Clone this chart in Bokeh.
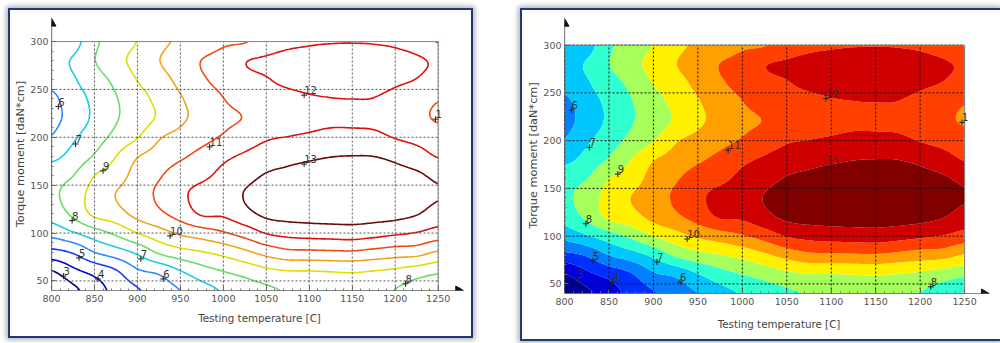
import numpy as np
from bokeh.plotting import figure
from bokeh.layouts import row
from bokeh.models import Range1d, SingleIntervalTicker, ColumnDataSource
from bokeh.embed import file_html
from bokeh.resources import INLINE
from bokeh.core.properties import value

# ---------------- data ----------------
temperatures = [800, 825, 850, 875, 900, 925, 950, 975, 1000, 1025,
                1050, 1075, 1100, 1125, 1150, 1175, 1200, 1225, 1250]
torques = [40, 60, 80, 100, 120, 140, 160, 180, 200, 220, 240, 260, 280, 300]

# estimated value of the response at each torque (rows above), one list per temperature
z_800 = [2.0, 2.95, 4.7, 6.35, 7.4, 7.8, 7.6, 6.75, 6.05, 5.75, 5.8, 6.3, 6.6, 6.0]
z_825 = [2.75, 3.75, 5.1, 6.9, 8.2, 8.5, 7.98, 7.35, 6.84, 6.38, 6.54, 6.88, 7.1, 6.55]
z_850 = [3.55, 4.3, 6.0, 7.54, 9.2, 9.35, 9.0, 8.1, 7.57, 7.2, 7.24, 7.58, 7.97, 7.8]
z_875 = [4.3, 4.9, 6.55, 8.2, 9.6, 10.02, 9.5, 9.0, 8.27, 7.92, 7.94, 8.24, 8.67, 8.49]
z_900 = [4.9, 5.85, 7.2, 9.0, 10.3, 10.6, 10.4, 9.95, 8.95, 8.48, 8.6, 9.03, 9.33, 9.03]
z_925 = [5.5, 6.2, 8.15, 9.6, 10.8, 11.15, 10.9, 10.4, 9.9, 9.14, 9.28, 9.63, 9.97, 9.74]
z_950 = [6.0, 6.95, 8.65, 10.15, 11.4, 11.8, 11.5, 10.85, 10.31, 9.83, 9.92, 10.25, 10.5, 10.17]
z_975 = [6.6, 7.6, 8.95, 10.5, 12.1, 12.3, 11.8, 11.3, 10.7, 10.3, 10.47, 10.87, 11.02, 10.43]
z_1000 = [7.1, 8.0, 9.3, 10.9, 12.15, 12.5, 12.25, 11.8, 11.1, 10.8, 10.98, 11.3, 11.4, 10.85]
z_1025 = [7.5, 8.35, 9.8, 11.4, 12.7, 13.05, 12.65, 12.15, 11.5, 11.05, 11.35, 11.7, 11.95, 10.95]
z_1050 = [7.8, 8.75, 10.35, 12.05, 13.2, 13.5, 13.08, 12.5, 11.9, 11.55, 11.7, 11.95, 12.15, 11.4]
z_1075 = [8.1, 8.95, 10.75, 12.3, 13.35, 13.65, 13.25, 12.7, 12.02, 11.6, 11.8, 12.15, 12.35, 11.75]
z_1100 = [8.3, 8.97, 10.8, 12.4, 13.4, 13.7, 13.4, 12.85, 12.15, 11.7, 11.92, 12.25, 12.42, 11.9]
z_1125 = [8.4, 9.03, 10.85, 12.45, 13.45, 13.75, 13.45, 12.98, 12.3, 11.8, 11.98, 12.32, 12.48, 11.96]
z_1150 = [8.45, 9.08, 10.88, 12.5, 13.45, 13.75, 13.45, 13.02, 12.3, 11.8, 12.0, 12.33, 12.5, 11.97]
z_1175 = [8.35, 8.97, 10.7, 12.35, 13.4, 13.7, 13.4, 13.0, 12.25, 11.75, 11.98, 12.3, 12.45, 11.95]
z_1200 = [7.97, 8.8, 10.5, 12.15, 13.3, 13.6, 13.3, 12.8, 11.95, 11.5, 11.75, 12.15, 12.35, 11.85]
z_1225 = [7.5, 8.5, 10.4, 11.95, 13.05, 13.4, 13.15, 12.45, 11.7, 11.22, 11.4, 11.97, 12.15, 11.55]
z_1250 = [7.0, 8.2, 9.9, 11.6, 12.6, 13.08, 12.8, 11.95, 11.4, 10.92, 11.05, 11.6, 11.85, 10.95]

line_levels = [3, 4, 5, 6, 7, 8, 9, 10, 11, 12, 13]
fill_levels = [0, 3, 4, 5, 6, 7, 8, 9, 10, 11, 12, 13, 16]

label_text = ["3", "4", "5", "6", "7", "8", "9", "10", "11", "12", "13", "8", "6", "7", "1"]
label_temp = [814, 854, 832, 930, 904, 824, 860, 938, 984, 1094, 1094, 1212, 808, 828, 1247]
label_torque = [55, 52, 74, 52, 73, 113, 165, 97, 190, 244, 172, 47, 232, 193, 219]

x_ticks = [800, 850, 900, 950, 1000, 1050, 1100, 1150, 1200, 1250]
y_ticks = [50, 100, 150, 200, 250, 300]
x_lo, x_hi = 800, 1250
y_lo, y_hi = 40, 300
x_title = "Testing temperature [C]"
y_title = "Torque moment [daN*cm]"

# ---------------- styles ----------------
line_colors = ["#000080", "#0000CD", "#1A3CFF", "#2E8BFF", "#1CCCE6", "#66DD66",
               "#DCE000", "#F2A21C", "#F04A14", "#DD1111", "#6A0A0A"]
fill_colors = ["#00008F", "#0000DF", "#0030FF", "#0080FF", "#00C8FF", "#30FFD0",
               "#A6FF5A", "#FFF000", "#FFA000", "#FF4000", "#CF0000", "#800000"]

Z = np.column_stack([z_800, z_825, z_850, z_875, z_900, z_925, z_950, z_975, z_1000, z_1025,
                     z_1050, z_1075, z_1100, z_1125, z_1150, z_1175, z_1200, z_1225, z_1250])
tx = np.array(temperatures, dtype=float)
ty = np.array(torques, dtype=float)


def cr(A, t, axis):
    """Catmull-Rom resampling along an axis (only to draw smooth curves)."""
    n = A.shape[axis]
    i = np.clip(np.floor(t).astype(int), 0, n - 2)
    u = t - i
    take = lambda k: np.take(A, np.clip(k, 0, n - 1), axis=axis)
    p0, p1, p2, p3 = take(i - 1), take(i), take(i + 1), take(i + 2)
    shp = [1] * A.ndim
    shp[axis] = -1
    u = u.reshape(shp)
    return 0.5 * (2 * p1 + (-p0 + p2) * u + (2 * p0 - 5 * p1 + 4 * p2 - p3) * u ** 2
                  + (-p0 + 3 * p1 - 3 * p2 + p3) * u ** 3)


xf = np.linspace(tx[0], tx[-1], 181)
yf = np.linspace(ty[0], ty[-1], 131)
Zf = cr(cr(Z, (xf - tx[0]) / (tx[1] - tx[0]), 1), (yf - ty[0]) / (ty[1] - ty[0]), 0)

FONT = "DejaVu Sans"


def panel(width, height, borders, x_end, y_end, filled, grid_color, x_title_gap):
    left, right, top, bottom = borders
    p = figure(width=width, height=height, x_range=Range1d(x_lo, x_end), y_range=Range1d(y_lo, y_end),
               output_backend="svg", toolbar_location=None,
               min_border_left=left, min_border_right=right, min_border_top=top,
               min_border_bottom=bottom)
    p.background_fill_color = "white"
    p.border_fill_color = "white"
    p.outline_line_color = None
    p.xgrid.visible = False
    p.ygrid.visible = False

    if filled:
        p.contour(x=xf, y=yf, z=Zf, levels=fill_levels, fill_color=fill_colors, line_color=None)
    else:
        p.contour(x=xf, y=yf, z=Zf, levels=line_levels, line_color=line_colors, line_width=1.6)

    # dotted grid at the major ticks, only over the data area
    p.segment(x0=x_ticks, y0=[y_lo] * len(x_ticks), x1=x_ticks, y1=[y_hi] * len(x_ticks),
              line_color=grid_color, line_dash="2 2", line_width=1)
    p.segment(x0=[x_lo] * len(y_ticks), y0=y_ticks, x1=[x_hi] * len(y_ticks), y1=y_ticks,
              line_color=grid_color, line_dash="2 2", line_width=1)
    # gray frame on top and right
    p.segment(x0=[x_lo, x_hi], y0=[y_hi, y_lo], x1=[x_hi, x_hi], y1=[y_hi, y_hi],
              line_color="#8a8a8a", line_width=1)

    for ax, bnds in ((p.xaxis[0], (x_lo, x_hi)), (p.yaxis[0], (y_lo, y_hi))):
        ax.ticker = SingleIntervalTicker(interval=50, num_minor_ticks=5)
        ax.bounds = bnds
        ax.axis_line_color = None
        ax.major_tick_in = 4
        ax.major_tick_out = 0
        ax.minor_tick_in = 2
        ax.minor_tick_out = 0
        ax.major_tick_line_color = "#555555"
        ax.minor_tick_line_color = "#777777"
        ax.major_label_text_font = FONT
        ax.major_label_text_font_size = "9.5px"
        ax.major_label_text_color = "#555555"
        ax.axis_label_text_font = FONT
        ax.axis_label_text_font_style = "normal"
        ax.axis_label_text_color = "#444444"

    p.xaxis.axis_label = x_title
    p.yaxis.axis_label = y_title
    p.xaxis.axis_label_text_font_size = "10.3px"
    p.yaxis.axis_label_text_font_size = "11.3px"
    p.xaxis.major_label_standoff = 4
    p.yaxis.major_label_standoff = 3
    p.xaxis.axis_label_standoff = x_title_gap
    p.yaxis.axis_label_standoff = 0

    src = ColumnDataSource(dict(x=label_temp, y=label_torque, t=label_text))
    p.scatter("x", "y", source=src, marker="cross", size=6, line_color="#222222", line_width=1)
    p.text("x", "y", text="t", source=src, text_font=value(FONT), text_font_size="10px",
           text_color="#333333", text_baseline="bottom", text_align="left", x_offset=0, y_offset=-1)

    # axes drawn as arrows running past the data area
    sx = (x_end - x_lo) / 1000.0
    sy = (y_end - y_lo) / 1000.0
    p.segment(x0=[x_lo, x_lo], y0=[y_lo, y_lo], x1=[x_end - 12 * sx, x_lo], y1=[y_lo, y_end - 12 * sy],
              line_color="#111111", line_width=1.2)
    p.scatter(x=[x_end - 22 * sx], y=[y_lo], marker="triangle", angle=-np.pi / 2, size=9,
              fill_color="#111111", line_color="#111111")
    p.scatter(x=[x_lo], y=[y_end - 22 * sy], marker="triangle", size=9,
              fill_color="#111111", line_color="#111111")
    return p


# left panel: box 465x330 at (8,8); right panel: box 480x333 at (520,8)
p1 = panel(465, 330, (41, 8, 7, 37), 1284.1, 325.1, False, "#555555", 7)
p2 = panel(480, 333, (42, 9, 7, 50), 1282.5, 328.9, True, "#111111", 10)

p1.styles = {"border": "2px solid #1e3a78", "box-shadow": "0px 0px 5px 2px rgba(0,0,0,0.30)",
             "box-sizing": "border-box"}
p2.styles = {"border-left": "2px solid #1e3a78", "border-top": "2px solid #1e3a78",
             "border-bottom": "2px solid #1e3a78", "box-shadow": "0px 0px 5px 2px rgba(0,0,0,0.30)",
             "box-sizing": "border-box"}
p1.margin = (8, 0, 0, 8)
p2.margin = (8, 0, 0, 0)

layout = row(p1, p2, spacing=47)
open("out.html", "w").write(file_html(layout, INLINE))
